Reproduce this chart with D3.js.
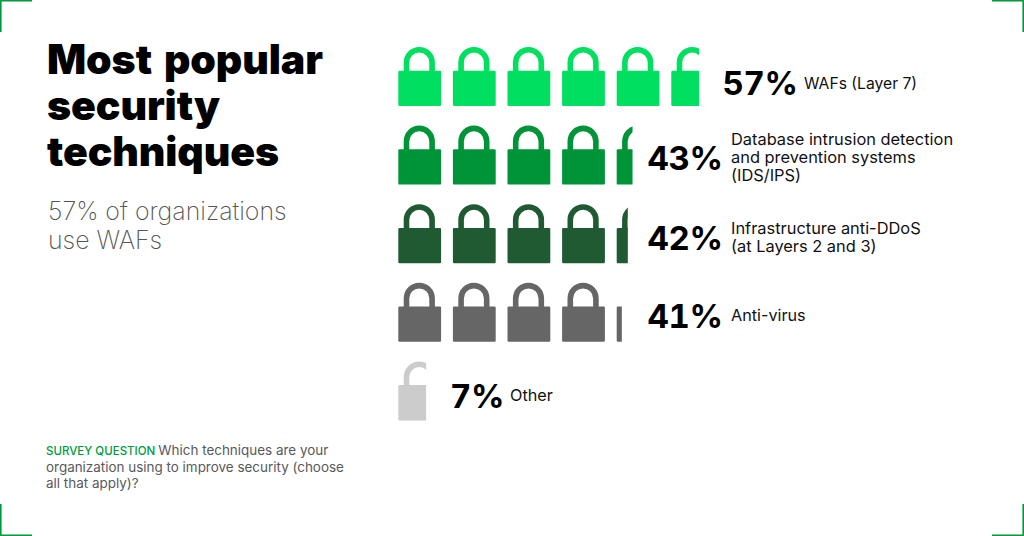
<!DOCTYPE html>
<html><head><meta charset="utf-8">
<style>html,body{margin:0;padding:0;background:#fff}svg{display:block}text{font-family:Inter,"Noto Sans",sans-serif}</style>
<script src="https://cdn.jsdelivr.net/npm/d3@7"></script></head>
<body><svg id="c" width="1024" height="536"></svg>
<script>
const categories=[["WAFs (Layer 7)"],["Database intrusion detection","and prevention systems","(IDS/IPS)"],["Infrastructure anti-DDoS","(at Layers 2 and 3)"],["Anti-virus"],["Other"]];
const percents=[57,43,42,41,7];
const fullLocks=[5,4,4,4,0];
const partialLock=[0.65,0.37,0.26,0.12,0.65];
const colors=["#00df5f","#009438","#205a32","#666666","#cccccc"];
const titleLines=["Most popular","security","techniques"];
const subtitleLines=["57% of organizations","use WAFs"];
const pctX=[722.5,647.5,647.5,647.5,450];
const pctY=[47.5,44.5,45.5,45,46.5];
const labelX=[804,731,731,731,510];
const labelY=[41.5,19.3,30.3,38,40];
const labelSize=[15.7,16.4,16.4,16.2,16.2];

const svg=d3.select("#c");
const x=d3.scaleLinear().domain([0,1]).range([398.3,452.9]);
const y=d3.scaleLinear().domain([0,1]).range([47,125.6]);
const lockW=42.8;
const fillW=d3.scaleLinear().domain([0,1]).range([0,lockW]);

function lockPath(){
  const p=d3.path();
  p.moveTo(1.2,23.7);p.lineTo(lockW-1.2,23.7);p.quadraticCurveTo(lockW,23.7,lockW,24.9);
  p.lineTo(lockW,57.8);p.quadraticCurveTo(lockW,59,lockW-1.2,59);
  p.lineTo(1.2,59);p.quadraticCurveTo(0,59,0,57.8);p.lineTo(0,24.9);p.quadraticCurveTo(0,23.7,1.2,23.7);p.closePath();
  return p.toString();
}
function shacklePath(){
  const p=d3.path();const cx=21,cy=15.6,r=12.8;
  p.moveTo(cx-r,25);p.lineTo(cx-r,cy);p.arc(cx,cy,r,Math.PI,0);p.lineTo(cx+r,25);
  return p.toString();
}
const defs=svg.append("defs");
function drawLock(g,col,w,id){
  const l=g.append("g");
  if(w<lockW){
    defs.append("clipPath").attr("id",id).append("rect").attr("x",-1).attr("y",-1).attr("width",w+1).attr("height",62);
    l.attr("clip-path",`url(#${id})`);
  }
  l.append("path").attr("d",shacklePath()).attr("fill","none").attr("stroke",col).attr("stroke-width",5.6);
  l.append("path").attr("d",lockPath()).attr("fill",col);
}
percents.forEach((v,i)=>{
  const row=svg.append("g").attr("transform",`translate(0,${y(i)})`);
  for(let k=0;k<fullLocks[i];k++){
    drawLock(row.append("g").attr("transform",`translate(${x(k)},0)`),colors[i],lockW,"");
  }
  drawLock(row.append("g").attr("transform",`translate(${x(fullLocks[i])},0)`),colors[i],fillW(partialLock[i]),"clip"+i);
  row.append("text").attr("x",pctX[i]).attr("y",pctY[i]).attr("font-size",33).attr("font-weight",700).attr("letter-spacing",-0.3).style("font-variant-numeric","tabular-nums").attr("fill","#000").text(v+"%");
  categories[i].forEach((t,j)=>row.append("text").attr("x",labelX[i]).attr("y",labelY[i]+j*18).attr("font-size",labelSize[i]).attr("font-weight",400).attr("fill","#111").text(t));
});
titleLines.forEach((t,i)=>svg.append("text").attr("x",47).attr("y",74+i*46).attr("font-size",41).attr("font-weight",900).attr("letter-spacing",-0.1).attr("word-spacing",4).attr("fill","#000").text(t));
subtitleLines.forEach((t,i)=>svg.append("text").attr("x",48).attr("y",220+i*29).attr("font-size",24.9).attr("font-weight",200).attr("fill","#555").text(t));
const q=svg.append("text").attr("x",46).attr("y",455).attr("font-size",13.45).attr("fill","#58595b");
q.append("tspan").attr("fill","#009a3c").attr("font-weight",500).attr("font-size",11.5).text("SURVEY QUESTION ");
q.append("tspan").text("Which techniques are your");
svg.append("text").attr("x",46).attr("y",472).attr("font-size",13.45).attr("fill","#58595b").text("organization using to improve security (choose");
svg.append("text").attr("x",46).attr("y",488).attr("font-size",13.45).attr("fill","#58595b").text("all that apply)?");
const c=32;
[[0,0,1,1],[1024,0,-1,1],[0,536,1,-1],[1024,536,-1,-1]].forEach(([a,b,sx,sy])=>{
  svg.append("path").attr("d",d3.line()([[a+sx*c,b+sy*0.8],[a+sx*0.8,b+sy*0.8],[a+sx*0.8,b+sy*c]])).attr("fill","none").attr("stroke","#009a3c").attr("stroke-width",1.6);
});
</script></body></html>
